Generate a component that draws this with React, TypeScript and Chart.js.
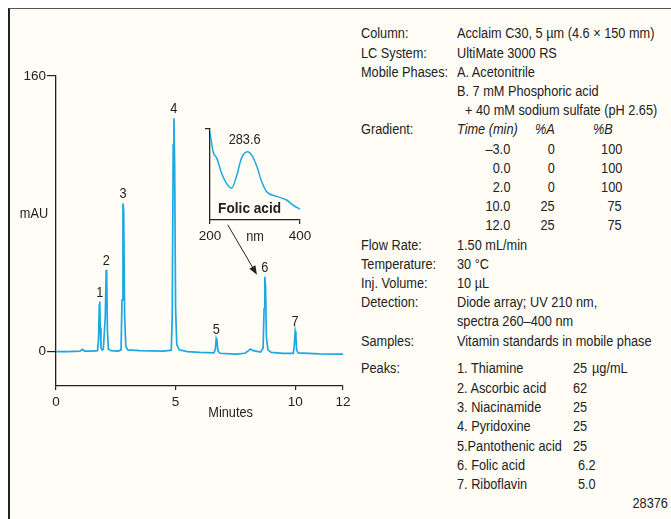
import React, { useEffect, useRef } from 'react';
import { Chart, registerables } from 'chart.js';

Chart.register(...registerables);

const FONT = "'Liberation Sans', Arial, sans-serif";
const NARROW = 0.91;
const INK = '#222222';
const TRACE = '#1ca8e3';
const BG = '#fffdf6';

// ---- Chromatogram (minutes, mAU) ----
const retentionTimes = [
  0.0, 0.5, 1.0, 1.1, 1.2, 1.5, 1.74, 1.78, 1.81, 1.83, 1.85, 1.88, 1.93, 1.98, 2.06, 2.1, 2.12, 2.15, 2.19,
  2.3, 2.6, 2.72, 2.76, 2.8, 2.83, 2.87, 2.92, 3.0, 3.5, 4.5, 4.82, 4.86, 4.9, 4.93, 4.96, 5.0, 5.05, 5.15,
  5.5, 6.0, 6.6, 6.66, 6.7, 6.73, 6.77, 6.85, 7.5, 7.9, 8.05, 8.13, 8.25, 8.55, 8.66, 8.7, 8.73, 8.76, 8.8,
  8.86, 9.0, 9.5, 9.92, 9.96, 10.0, 10.03, 10.06, 10.12, 11.0, 12.0,
];
const absorbance = [
  0.0, 0.0, 0.2, 1.3, 0.3, 0.3, 0.5, 8, 27, 29, 14, 2, 0.8, 1.5, 20, 47.5, 44, 12, 1.5,
  0.5, 0.3, 1, 30, 86, 82, 20, 3, 1, 0.5, 0.3, 0.8, 20, 120, 135.5, 110, 25, 4, 1,
  0, -0.5, -0.8, 1, 7.4, 6, 0.5, -1, -1.5, -1, 0.5, 1.5, 0.5, -0.3, 2, 25, 43.5, 38, 8,
  1, -0.5, -1, -1, 3, 11.8, 9, 1, -0.8, -1.3, -1.5,
];
const peakNumbers = ['1', '2', '3', '4', '5', '6', '7'];
const peakTimes = [1.83, 2.1, 2.8, 4.93, 6.7, 8.73, 10.0];
const peakHeights = [29, 47.5, 86, 135.5, 7.4, 43.5, 11.8];
const xTickValues = [0, 5, 10, 12];
const yTickValues = [0, 160];
const arrowFrom = [7.18, 73.6];
const arrowTo = [8.4, 44.6];

// ---- Inset UV spectrum of folic acid (nm, relative absorbance) ----
const wavelengths = [200, 207, 215, 226, 237, 248, 259, 270, 283.6, 293, 304, 315, 326, 348, 370, 385, 400];
const spectrum = [96, 75, 68, 51, 40, 35, 48, 68, 75, 71, 59, 42, 31, 26, 22, 16, 12];
const spectrumTicks = [200, 400];
const spectrumPeakLabel = '283.6';

// ---- Method details ----
const conditionLabels = ['Column:', 'LC System:', 'Mobile Phases:', '', '', 'Gradient:'];
const conditionValues = [
  'Acclaim C30, 5 µm (4.6 × 150 mm)',
  'UltiMate 3000 RS',
  'A. Acetonitrile',
  'B. 7 mM Phosphoric acid',
  '+ 40 mM sodium sulfate (pH 2.65)',
  '',
];
const gradientTimes = ['–3.0', '0.0', '2.0', '10.0', '12.0'];
const gradientA = ['0', '0', '0', '25', '25'];
const gradientB = ['100', '100', '100', '75', '75'];
const moreLabels = ['Flow Rate:', 'Temperature:', 'Inj. Volume:', 'Detection:', '', 'Samples:'];
const moreValues = [
  '1.50 mL/min',
  '30 °C',
  '10 µL',
  'Diode array; UV 210 nm,',
  'spectra 260–400 nm',
  'Vitamin standards in mobile phase',
];
const peakNames = [
  '1. Thiamine',
  '2. Ascorbic acid',
  '3. Niacinamide',
  '4. Pyridoxine',
  '5.Pantothenic acid',
  '6. Folic acid',
  '7. Riboflavin',
];
const peakConcs = ['25', '62', '25', '25', '25', '6.2', '5.0'];
const concUnit = 'µg/mL';
const figureNumber = '28376';

function narrowText(ctx: CanvasRenderingContext2D, text: string, x: number, y: number) {
  ctx.save();
  ctx.translate(x, y);
  ctx.scale(NARROW, 1);
  ctx.fillText(text, 0, 0);
  ctx.restore();
}

const chromPlugin = {
  id: 'chromDecor',
  afterDatasetsDraw(chart: any) {
    const { ctx, scales } = chart;
    const xs = scales.x;
    const ys = scales.y;
    ctx.save();
    ctx.fillStyle = INK;
    ctx.strokeStyle = INK;
    ctx.font = `14px ${FONT}`;
    ctx.textAlign = 'center';
    ctx.textBaseline = 'alphabetic';
    peakNumbers.forEach((n, i) => {
      const px = xs.getPixelForValue(peakTimes[i]);
      const py = ys.getPixelForValue(peakHeights[i]);
      narrowText(ctx, n, px, py - 5);
    });
    // axis titles
    ctx.textBaseline = 'middle';
    narrowText(ctx, 'mAU', chart.chartArea.left - 22, 174);
    narrowText(ctx, 'Minutes', xs.getPixelForValue(7.3), 373);
    // arrow
    const x1 = xs.getPixelForValue(arrowFrom[0]);
    const y1 = ys.getPixelForValue(arrowFrom[1]);
    const x2 = xs.getPixelForValue(arrowTo[0]);
    const y2 = ys.getPixelForValue(arrowTo[1]);
    const ang = Math.atan2(y2 - y1, x2 - x1);
    const len = 9;
    const hw = 3.5;
    const bx = x2 - len * Math.cos(ang);
    const by = y2 - len * Math.sin(ang);
    ctx.lineWidth = 1;
    ctx.beginPath();
    ctx.moveTo(x1, y1);
    ctx.lineTo(bx, by);
    ctx.stroke();
    ctx.beginPath();
    ctx.moveTo(x2, y2);
    ctx.lineTo(bx + hw * Math.sin(ang), by - hw * Math.cos(ang));
    ctx.lineTo(bx - hw * Math.sin(ang), by + hw * Math.cos(ang));
    ctx.closePath();
    ctx.fill();
    ctx.restore();
  },
};

const specPlugin = {
  id: 'specDecor',
  afterDatasetsDraw(chart: any) {
    const { ctx, scales, chartArea } = chart;
    const xs = scales.x;
    const ys = scales.y;
    ctx.save();
    ctx.fillStyle = INK;
    ctx.textAlign = 'center';
    ctx.font = `14px ${FONT}`;
    ctx.textBaseline = 'alphabetic';
    const pi = wavelengths.indexOf(283.6);
    narrowText(ctx, spectrumPeakLabel, xs.getPixelForValue(wavelengths[pi]) - 3, ys.getPixelForValue(spectrum[pi]) - 8);
    ctx.textBaseline = 'middle';
    narrowText(ctx, 'nm', (chartArea.left + chartArea.right) / 2, chartArea.bottom + 17);
    ctx.font = `bold 15px ${FONT}`;
    narrowText(ctx, 'Folic acid', chartArea.left + 0.44 * (chartArea.right - chartArea.left), chartArea.bottom - 11);
    ctx.restore();
  },
};

const Text = ({ x, y, children, align = 'left', italic = false, size = 14 }: any) => (
  <div
    style={{
      position: 'fixed',
      left: align === 'right' ? undefined : x,
      right: align === 'right' ? 671 - x : undefined,
      top: y - 8,
      height: 16,
      lineHeight: '16px',
      fontFamily: FONT,
      fontSize: size,
      fontStyle: italic ? 'italic' : 'normal',
      color: INK,
      whiteSpace: 'pre',
      transform: `scaleX(${NARROW})`,
      transformOrigin: align === 'right' ? 'right center' : 'left center',
    }}
  >
    {children}
  </div>
);

export default function App() {
  const mainRef = useRef<HTMLCanvasElement>(null);
  const insetRef = useRef<HTMLCanvasElement>(null);

  useEffect(() => {
    const axisCommon = (tickLength: number) => ({
      grid: { display: true, drawOnChartArea: false, drawTicks: true, tickLength, tickColor: INK, lineWidth: 1.2 },
      border: { display: true, color: INK, width: 1.3 },
    });
    const tickFont = { family: FONT, size: 13.5 };
    const main = new Chart(mainRef.current as HTMLCanvasElement, {
      type: 'line',
      data: {
        datasets: [
          {
            data: retentionTimes.map((x, i) => ({ x, y: absorbance[i] })),
            borderColor: TRACE,
            borderWidth: 1.7,
            pointRadius: 0,
            tension: 0,
            fill: false,
          },
        ],
      },
      options: {
        animation: false,
        responsive: false,
        devicePixelRatio: 1,
        layout: { padding: { top: 36, right: 17, bottom: 0, left: 0 } },
        plugins: { legend: { display: false }, tooltip: { enabled: false } },
        scales: {
          x: {
            type: 'linear',
            min: 0,
            max: 12,
            afterBuildTicks: (s: any) => {
              s.ticks = xTickValues.map((v) => ({ value: v }));
            },
            afterFit: (s: any) => {
              s.height = 44;
            },
            ...axisCommon(4),
            ticks: { color: INK, font: tickFont, padding: 4, maxRotation: 0, autoSkip: false },
          },
          y: {
            type: 'linear',
            min: -20,
            max: 160,
            afterBuildTicks: (s: any) => {
              s.ticks = yTickValues.map((v) => ({ value: v }));
            },
            afterFit: (s: any) => {
              s.width = 46;
            },
            ...axisCommon(9),
            ticks: { color: INK, font: tickFont, padding: 1, autoSkip: false },
          },
        },
      } as any,
      plugins: [chromPlugin],
    } as any);

    const inset = new Chart(insetRef.current as HTMLCanvasElement, {
      type: 'line',
      data: {
        datasets: [
          {
            data: wavelengths.map((x, i) => ({ x, y: spectrum[i] })),
            borderColor: TRACE,
            borderWidth: 1.5,
            pointRadius: 0,
            cubicInterpolationMode: 'monotone',
            fill: false,
          },
        ],
      },
      options: {
        animation: false,
        responsive: false,
        devicePixelRatio: 1,
        layout: { padding: { top: 14, right: 20, bottom: 0, left: 0 } },
        plugins: { legend: { display: false }, tooltip: { enabled: false } },
        scales: {
          x: {
            type: 'linear',
            min: 200,
            max: 400,
            afterBuildTicks: (s: any) => {
              s.ticks = spectrumTicks.map((v) => ({ value: v }));
            },
            afterFit: (s: any) => {
              s.height = 30;
            },
            ...axisCommon(4),
            ticks: { color: INK, font: tickFont, padding: 4, maxRotation: 0, autoSkip: false },
          },
          y: {
            type: 'linear',
            min: 0,
            max: 100,
            afterBuildTicks: (s: any) => {
              s.ticks = [{ value: 100 }];
            },
            afterFit: (s: any) => {
              s.width = 20;
            },
            ...axisCommon(5),
            ticks: { callback: () => '' },
          },
        },
      } as any,
      plugins: [specPlugin],
    } as any);

    return () => {
      main.destroy();
      inset.destroy();
    };
  }, []);

  const rowY = (i: number) => 33.3 + 19.2 * i;
  const peaksY = (i: number) => 368.3 + 19.3 * i;

  return (
    <div>
      <div
        style={{
          position: 'fixed',
          left: 8,
          top: 8,
          width: 663,
          height: 511,
          boxSizing: 'border-box',
          background: BG,
          borderTop: '1px solid #555',
          borderLeft: '2px solid #222',
        }}
      />
      <canvas ref={mainRef} width={350} height={390} style={{ position: 'fixed', left: 10, top: 40 }} />
      <canvas ref={insetRef} width={130} height={135} style={{ position: 'fixed', left: 190, top: 115 }} />

      {conditionLabels.map((l, i) => (
        <Text key={'cl' + i} x={361} y={rowY(i)}>{l}</Text>
      ))}
      {conditionValues.map((v, i) => (
        <Text key={'cv' + i} x={i === 4 ? 465 : 457} y={rowY(i)}>{v}</Text>
      ))}
      <Text x={457} y={rowY(5)} italic>Time (min)</Text>
      <Text x={555} y={rowY(5)} align="right" italic>%A</Text>
      <Text x={613} y={rowY(5)} align="right" italic>%B</Text>
      {gradientTimes.map((t, i) => (
        <React.Fragment key={'g' + i}>
          <Text x={510} y={rowY(6 + i)} align="right">{t}</Text>
          <Text x={555} y={rowY(6 + i)} align="right">{gradientA[i]}</Text>
          <Text x={622} y={rowY(6 + i)} align="right">{gradientB[i]}</Text>
        </React.Fragment>
      ))}
      {moreLabels.map((l, i) => (
        <Text key={'ml' + i} x={361} y={rowY(11 + i)}>{l}</Text>
      ))}
      {moreValues.map((v, i) => (
        <Text key={'mv' + i} x={457} y={rowY(11 + i)}>{v}</Text>
      ))}
      <Text x={361} y={peaksY(0)}>Peaks:</Text>
      {peakNames.map((n, i) => (
        <React.Fragment key={'p' + i}>
          <Text x={457} y={peaksY(i)}>{n}</Text>
          <Text x={peakConcs[i].includes('.') ? 578 : 573} y={peaksY(i)}>{peakConcs[i]}</Text>
        </React.Fragment>
      ))}
      <Text x={592} y={peaksY(0)}>{concUnit}</Text>
      <Text x={668} y={503} align="right">{figureNumber}</Text>
    </div>
  );
}
